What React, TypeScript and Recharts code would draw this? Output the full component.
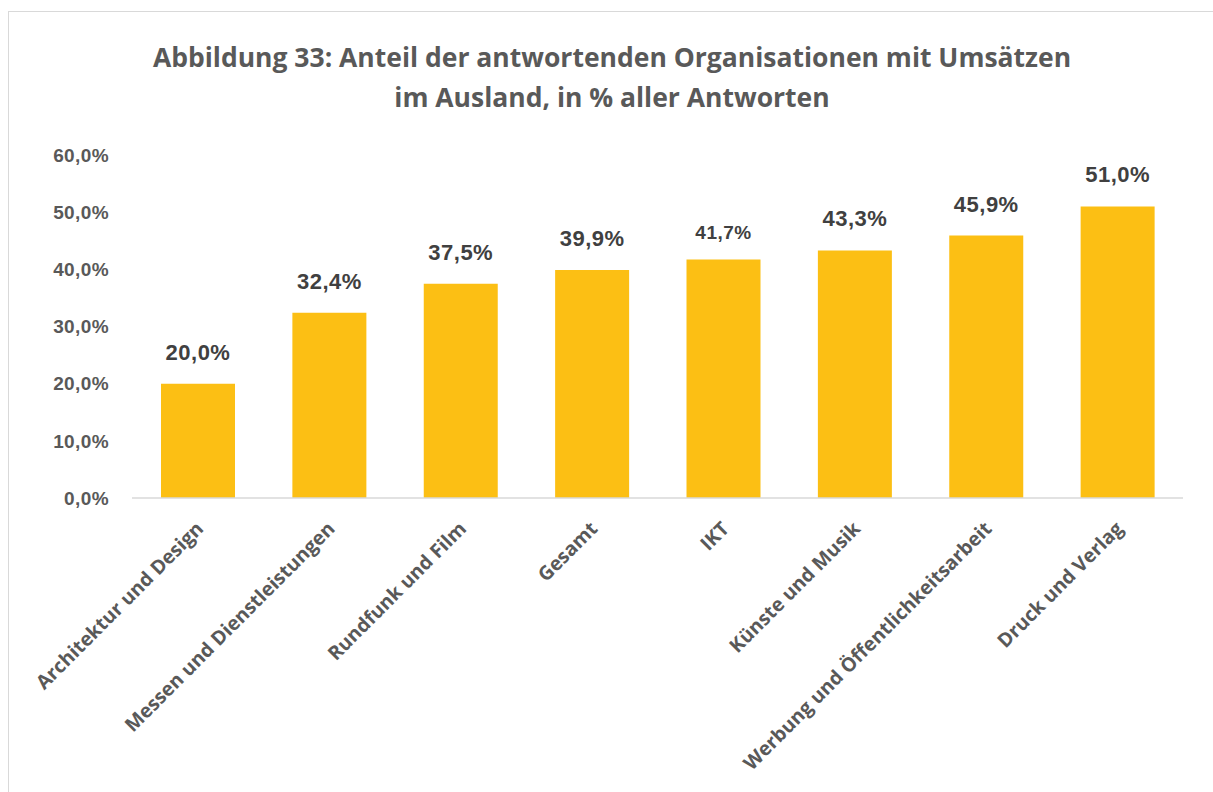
import { BarChart, Bar, XAxis, YAxis, LabelList } from 'recharts';

const categories = [
  'Architektur und Design',
  'Messen und Dienstleistungen',
  'Rundfunk und Film',
  'Gesamt',
  'IKT',
  'Künste und Musik',
  'Werbung und Öffentlichkeitsarbeit',
  'Druck und Verlag',
];
const shares = [20.0, 32.4, 37.5, 39.9, 41.7, 43.3, 45.9, 51.0];
const yTicks = [0, 10, 20, 30, 40, 50, 60];

const data = categories.map((name, i) => ({ name, value: shares[i] }));

const fmt = (v: number) => v.toFixed(1).replace('.', ',') + '%';

function CategoryTick({ x, y, payload }: any) {
  return (
    <g transform={`translate(${x + 7},${y + 32})`}>
      <text
        x={0}
        y={0}
        textAnchor="end"
        transform="rotate(-45)"
        fill="#595959"
        fontFamily="'Open Sans', sans-serif"
        fontWeight={700}
        fontSize={19.5}
      >
        {payload.value}
      </text>
    </g>
  );
}

function ValueTick({ x, y, payload }: any) {
  return (
    <text
      x={x - 23}
      y={y}
      dy="0.355em"
      textAnchor="end"
      fill="#595959"
      fontFamily="'Liberation Sans', Arial, sans-serif"
      fontWeight={700}
      fontSize={19}
      letterSpacing={0.4}
    >
      {fmt(payload.value)}
    </text>
  );
}

function BarValue({ x, y, width, value, index }: any) {
  const small = categories[index] === 'IKT';
  return (
    <text
      x={x + width / 2}
      y={y - (small ? 21 : 24)}
      textAnchor="middle"
      fill="#404040"
      fontFamily="'Liberation Sans', Arial, sans-serif"
      fontWeight={700}
      fontSize={small ? 19 : 22}
      letterSpacing={0.5}
    >
      {fmt(value)}
    </text>
  );
}

export default function App() {
  return (
    <div style={{ position: 'absolute', left: 0, top: 0, width: 1213, height: 792, overflow: 'hidden', background: '#fff' }}>
      <div style={{ position: 'absolute', left: 8, top: 11, width: 1210, height: 790, border: '1px solid #d9d9d9' }} />
      <div
        style={{
          position: 'absolute',
          left: 0,
          width: 1224,
          top: 37,
          textAlign: 'center',
          fontFamily: "'Open Sans', sans-serif",
          fontWeight: 700,
          fontSize: 26.5,
          lineHeight: '40px',
          color: '#595959',
        }}
      >
        Abbildung 33: Anteil der antwortenden Organisationen mit Umsätzen
        <br />
        im Ausland, in % aller Antworten
      </div>
      <div style={{ position: 'absolute', left: 0, top: 0 }}>
        <BarChart width={1213} height={792} data={data} margin={{ top: 155, right: 30, bottom: 34, left: 12 }}>
          <YAxis
            domain={[0, 60]}
            ticks={yTicks}
            width={120}
            axisLine={false}
            tickLine={false}
            tickSize={0}
            tickMargin={0}
            tick={<ValueTick />}
            interval={0}
          />
          <XAxis
            dataKey="name"
            height={260}
            axisLine={{ stroke: '#d9d9d9', strokeWidth: 1.5 }}
            tickLine={false}
            tickSize={0}
            tickMargin={0}
            interval={0}
            tick={<CategoryTick />}
          />
          <Bar dataKey="value" fill="#FCBF14" barSize={74} isAnimationActive={false}>
            <LabelList dataKey="value" content={<BarValue />} />
          </Bar>
        </BarChart>
      </div>
    </div>
  );
}
